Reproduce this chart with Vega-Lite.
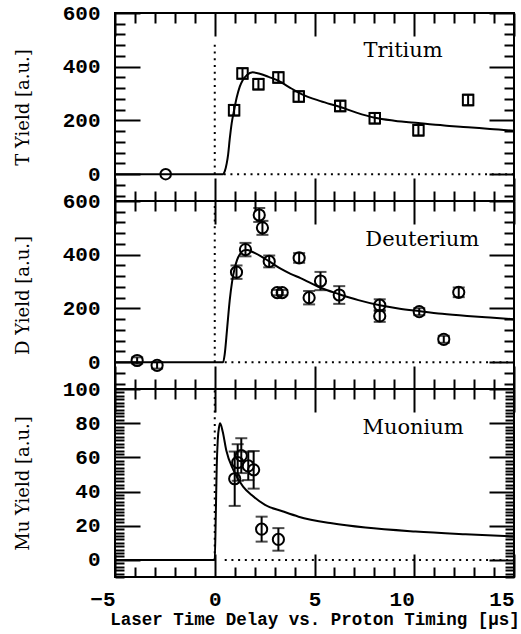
{
  "$schema": "https://vega.github.io/schema/vega-lite/v6.json",
  "padding": {"left": 13, "top": 1, "right": 2, "bottom": 0},
  "spacing": 0,
  "bounds": "flush",
  "datasets": {
    "tCurve": [{"t":-5,"v":0},{"t":0.42,"v":0},{"t":0.5,"v":10},{"t":0.6,"v":40},{"t":0.67,"v":73},{"t":0.75,"v":130},{"t":0.85,"v":190},{"t":0.97,"v":238},{"t":1.1,"v":285},{"t":1.25,"v":325},{"t":1.4,"v":350},{"t":1.6,"v":368},{"t":1.9,"v":379},{"t":2.3,"v":373},{"t":2.7,"v":362},{"t":3.18,"v":348},{"t":3.7,"v":325},{"t":4.35,"v":298},{"t":5.3,"v":272},{"t":6.29,"v":250},{"t":7.1,"v":229},{"t":8.02,"v":210},{"t":9.0,"v":199},{"t":10.2,"v":190},{"t":11.5,"v":181},{"t":12.7,"v":175},{"t":13.8,"v":168},{"t":15,"v":162}],
    "tPts": [{"t":0.97,"v":238,"lo":218,"hi":258},{"t":1.39,"v":375,"lo":355,"hi":395},{"t":2.19,"v":335,"lo":315,"hi":355},{"t":3.19,"v":360,"lo":340,"hi":380},{"t":4.21,"v":289,"lo":269,"hi":309},{"t":6.29,"v":254,"lo":234,"hi":274},{"t":8.02,"v":208,"lo":188,"hi":228},{"t":10.21,"v":163,"lo":143,"hi":183},{"t":12.7,"v":276,"lo":256,"hi":296}],
    "tCirc": [{"t":-2.46,"v":0}],
    "dCurve": [{"t":-5,"v":0},{"t":0.42,"v":0},{"t":0.5,"v":30},{"t":0.62,"v":125},{"t":0.75,"v":230},{"t":0.87,"v":300},{"t":1.0,"v":350},{"t":1.12,"v":381},{"t":1.3,"v":406},{"t":1.45,"v":416},{"t":1.62,"v":418},{"t":1.9,"v":410},{"t":2.3,"v":395},{"t":2.73,"v":375},{"t":3.3,"v":348},{"t":3.8,"v":329},{"t":4.3,"v":313},{"t":5.3,"v":277},{"t":6.24,"v":253},{"t":7.2,"v":231},{"t":8.27,"v":212},{"t":9.2,"v":200},{"t":10.25,"v":190},{"t":11.4,"v":180},{"t":12.65,"v":172},{"t":13.8,"v":166},{"t":15,"v":160}],
    "dPts": [{"t":-3.89,"v":6,"lo":-6,"hi":18},{"t":-2.89,"v":-12,"lo":-24,"hi":0},{"t":1.09,"v":335,"lo":310,"hi":360},{"t":1.54,"v":419,"lo":394,"hi":444},{"t":2.23,"v":548,"lo":522,"hi":574},{"t":2.39,"v":500,"lo":474,"hi":526},{"t":2.73,"v":375,"lo":353,"hi":397},{"t":3.13,"v":259,"lo":249,"hi":269},{"t":3.38,"v":259,"lo":249,"hi":269},{"t":4.23,"v":388,"lo":370,"hi":406},{"t":4.73,"v":240,"lo":215,"hi":265},{"t":5.3,"v":302,"lo":268,"hi":336},{"t":6.24,"v":250,"lo":217,"hi":283},{"t":8.27,"v":212,"lo":190,"hi":234},{"t":8.27,"v":172,"lo":150,"hi":194},{"t":10.25,"v":188,"lo":175,"hi":201},{"t":11.48,"v":85,"lo":72,"hi":98},{"t":12.23,"v":260,"lo":242,"hi":278}],
    "muCurve": [{"t":-5,"v":0},{"t":0.0,"v":0},{"t":0.05,"v":25},{"t":0.1,"v":55},{"t":0.15,"v":70},{"t":0.22,"v":78},{"t":0.27,"v":80},{"t":0.4,"v":75},{"t":0.58,"v":64},{"t":0.93,"v":52.7},{"t":1.42,"v":42.9},{"t":1.85,"v":38},{"t":2.52,"v":32.2},{"t":3.43,"v":28.3},{"t":4.2,"v":25.3},{"t":5.87,"v":21.4},{"t":7.55,"v":18.9},{"t":10.06,"v":16.6},{"t":12.57,"v":15},{"t":15,"v":13.7}],
    "muPts": [{"t":1.0,"v":47.5,"lo":31.6,"hi":63.4},{"t":1.15,"v":57,"lo":46.3,"hi":67.7},{"t":1.33,"v":61,"lo":50.8,"hi":71.2},{"t":1.68,"v":55,"lo":46.7,"hi":63.3},{"t":1.95,"v":52.7,"lo":41.7,"hi":63.7},{"t":2.35,"v":18,"lo":10.7,"hi":25.3},{"t":3.19,"v":12,"lo":5.4,"hi":18.6}],
    "guides": [{"p":"T","x":0,"x2":0,"y":0,"y2":485},{"p":"T","x":0.45,"x2":15,"y":0,"y2":0},{"p":"D","x":0,"x2":0,"y":0,"y2":600},{"p":"D","x":0.5,"x2":15,"y":0,"y2":0},{"p":"M","x":0,"x2":0,"y":0,"y2":100},{"p":"M","x":0.5,"x2":15,"y":0,"y2":0}],
    "labels": [{"p":"T","x":9.44,"y":460,"label":"Tritium"},{"p":"D","x":10.4,"y":456,"label":"Deuterium"},{"p":"M","x":9.94,"y":77,"label":"Muonium"}]
  },
  "vconcat": [
    {
      "width": 399, "height": 188,
      "layer": [
        {"data": {"name": "tCurve"}, "mark": {"type": "line", "color": "black", "strokeWidth": 2, "interpolate": "monotone"},
         "encoding": {
           "x": {"field": "t", "type": "quantitative", "scale": {"domain": [-5, 15], "nice": false, "zero": false},
                 "axis": {"orient": "bottom", "values": [-5,0,5,10,15], "labels": false, "title": null, "tickSize": -23}},
           "y": {"field": "v", "type": "quantitative", "scale": {"domain": [-100, 600], "nice": false, "zero": false},
                 "axis": {"orient": "left", "values": [0,200,400,600], "labelPadding": 40, "labelOverlap": false, "tickSize": -25, "title": "T Yield [a.u.]", "titlePadding": 30}}
         }},
        {"data": {"name": "tPts"}, "mark": {"type": "rule", "color": "black", "strokeWidth": 2},
         "encoding": {
           "x": {"field": "t", "type": "quantitative", "axis": {"orient": "top", "values": [-5,0,5,10,15], "labels": false, "title": null, "tickSize": -23}},
           "y": {"field": "lo", "type": "quantitative", "axis": {"orient": "right", "values": [0,200,400,600], "labels": false, "title": null, "tickSize": -25}},
           "y2": {"field": "hi"}
         }},
        {"data": {"name": "tPts"}, "mark": {"type": "tick", "orient": "horizontal", "color": "black", "size": 11, "thickness": 2},
         "encoding": {
           "x": {"field": "t", "type": "quantitative", "axis": {"orient": "bottom", "values": [-4,-3,-2,-1,1,2,3,4,6,7,8,9,11,12,13,14], "labels": false, "title": null, "tickSize": -10}},
           "y": {"field": "lo", "type": "quantitative", "axis": {"orient": "left", "values": [-80,-40,40,80,120,160,240,280,320,360,440,480,520,560], "labels": false, "title": null, "tickSize": -10}}}},
        {"data": {"name": "tPts"}, "mark": {"type": "tick", "orient": "horizontal", "color": "black", "size": 11, "thickness": 2},
         "encoding": {
           "x": {"field": "t", "type": "quantitative", "axis": {"orient": "top", "values": [-4,-3,-2,-1,1,2,3,4,6,7,8,9,11,12,13,14], "labels": false, "title": null, "tickSize": -10}},
           "y": {"field": "hi", "type": "quantitative", "axis": {"orient": "right", "values": [-80,-40,40,80,120,160,240,280,320,360,440,480,520,560], "labels": false, "title": null, "tickSize": -10}}}},
        {"data": {"name": "tPts"}, "mark": {"type": "point", "shape": "square", "filled": false, "color": "black", "strokeWidth": 2, "size": 110, "opacity": 1},
         "encoding": {"x": {"field": "t", "type": "quantitative", "axis": null}, "y": {"field": "v", "type": "quantitative", "axis": null}}},
        {"data": {"name": "tCirc"}, "mark": {"type": "point", "shape": "circle", "filled": false, "color": "black", "strokeWidth": 2, "size": 110, "opacity": 1},
         "encoding": {"x": {"field": "t", "type": "quantitative", "axis": null}, "y": {"field": "v", "type": "quantitative", "axis": null}}},
        {"data": {"name": "guides"}, "transform": [{"filter": "datum.p === 'T'"}], "mark": {"type": "rule", "color": "black", "strokeWidth": 2, "strokeDash": [2, 4.7]},
         "encoding": {"x": {"field": "x", "type": "quantitative", "axis": null}, "x2": {"field": "x2"}, "y": {"field": "y", "type": "quantitative", "axis": null}, "y2": {"field": "y2"}}},
        {"data": {"name": "labels"}, "transform": [{"filter": "datum.p === 'T'"}], "mark": {"type": "text", "font": "DejaVu Serif", "fontSize": 21, "color": "black", "align": "center", "baseline": "middle"},
         "encoding": {"x": {"field": "x", "type": "quantitative", "axis": null}, "y": {"field": "y", "type": "quantitative", "axis": null}, "text": {"field": "label"}}}
      ],
      "resolve": {"axis": {"x": "independent", "y": "independent"}}
    },
    {
      "width": 399, "height": 188,
      "layer": [
        {"data": {"name": "dCurve"}, "mark": {"type": "line", "color": "black", "strokeWidth": 2, "interpolate": "monotone"},
         "encoding": {
           "x": {"field": "t", "type": "quantitative", "scale": {"domain": [-5, 15], "nice": false, "zero": false},
                 "axis": {"orient": "bottom", "values": [-5,0,5,10,15], "labels": false, "title": null, "tickSize": -23}},
           "y": {"field": "v", "type": "quantitative", "scale": {"domain": [-100, 600], "nice": false, "zero": false},
                 "axis": {"orient": "left", "values": [0,200,400,600], "labelPadding": 40, "labelOverlap": false, "tickSize": -25, "title": "D Yield [a.u.]", "titlePadding": 30}}
         }},
        {"data": {"name": "dPts"}, "mark": {"type": "rule", "color": "black", "strokeWidth": 2},
         "encoding": {
           "x": {"field": "t", "type": "quantitative", "axis": {"orient": "top", "values": [-5,0,5,10,15], "labels": false, "title": null, "tickSize": -23}},
           "y": {"field": "lo", "type": "quantitative", "axis": {"orient": "right", "values": [0,200,400,600], "labels": false, "title": null, "tickSize": -25}},
           "y2": {"field": "hi"}
         }},
        {"data": {"name": "dPts"}, "mark": {"type": "tick", "orient": "horizontal", "color": "black", "size": 12, "thickness": 2},
         "encoding": {
           "x": {"field": "t", "type": "quantitative", "axis": {"orient": "bottom", "values": [-4,-3,-2,-1,1,2,3,4,6,7,8,9,11,12,13,14], "labels": false, "title": null, "tickSize": -10}},
           "y": {"field": "lo", "type": "quantitative", "axis": {"orient": "left", "values": [-80,-40,40,80,120,160,240,280,320,360,440,480,520,560], "labels": false, "title": null, "tickSize": -10}}}},
        {"data": {"name": "dPts"}, "mark": {"type": "tick", "orient": "horizontal", "color": "black", "size": 12, "thickness": 2},
         "encoding": {
           "x": {"field": "t", "type": "quantitative", "axis": {"orient": "top", "values": [-4,-3,-2,-1,1,2,3,4,6,7,8,9,11,12,13,14], "labels": false, "title": null, "tickSize": -10}},
           "y": {"field": "hi", "type": "quantitative", "axis": {"orient": "right", "values": [-80,-40,40,80,120,160,240,280,320,360,440,480,520,560], "labels": false, "title": null, "tickSize": -10}}}},
        {"data": {"name": "dPts"}, "mark": {"type": "point", "shape": "circle", "filled": false, "color": "black", "strokeWidth": 2, "size": 125, "opacity": 1},
         "encoding": {"x": {"field": "t", "type": "quantitative", "axis": null}, "y": {"field": "v", "type": "quantitative", "axis": null}}},
        {"data": {"name": "guides"}, "transform": [{"filter": "datum.p === 'D'"}], "mark": {"type": "rule", "color": "black", "strokeWidth": 2, "strokeDash": [2, 4.7]},
         "encoding": {"x": {"field": "x", "type": "quantitative", "axis": null}, "x2": {"field": "x2"}, "y": {"field": "y", "type": "quantitative", "axis": null}, "y2": {"field": "y2"}}},
        {"data": {"name": "labels"}, "transform": [{"filter": "datum.p === 'D'"}], "mark": {"type": "text", "font": "DejaVu Serif", "fontSize": 21, "color": "black", "align": "center", "baseline": "middle"},
         "encoding": {"x": {"field": "x", "type": "quantitative", "axis": null}, "y": {"field": "y", "type": "quantitative", "axis": null}, "text": {"field": "label"}}}
      ],
      "resolve": {"axis": {"x": "independent", "y": "independent"}}
    },
    {
      "width": 399, "height": 188,
      "layer": [
        {"data": {"name": "muCurve"}, "mark": {"type": "line", "color": "black", "strokeWidth": 2, "interpolate": "monotone"},
         "encoding": {
           "x": {"field": "t", "type": "quantitative", "scale": {"domain": [-5, 15], "nice": false, "zero": false},
                 "axis": {"orient": "bottom", "values": [-5,0,5,10,15], "labelPadding": 34, "labelOverlap": false, "labelFlush": false, "labelAlign": {"condition": {"test": "datum.value === -5 || datum.value >= 10", "value": "right"}, "value": "center"}, "tickSize": -23, "title": "Laser Time Delay vs. Proton Timing [μs]", "titlePadding": 1, "titleFont": "Liberation Mono", "titleFontSize": 17.5, "titleFontWeight": "bold"}},
           "y": {"field": "v", "type": "quantitative", "scale": {"domain": [-10, 100], "nice": false, "zero": false},
                 "axis": {"orient": "left", "values": [0,20,40,60,80,100], "labelPadding": 40, "labelOverlap": false, "tickSize": -25, "title": "Mu Yield [a.u.]", "titlePadding": 30}}
         }},
        {"data": {"name": "muPts"}, "mark": {"type": "rule", "color": "black", "strokeWidth": 2},
         "encoding": {
           "x": {"field": "t", "type": "quantitative", "axis": {"orient": "top", "values": [-5,0,5,10,15], "labels": false, "title": null, "tickSize": -23}},
           "y": {"field": "lo", "type": "quantitative", "axis": {"orient": "right", "values": [0,20,40,60,80,100], "labels": false, "title": null, "tickSize": -25}},
           "y2": {"field": "hi"}
         }},
        {"data": {"name": "muPts"}, "mark": {"type": "tick", "orient": "horizontal", "color": "black", "size": 12, "thickness": 2},
         "encoding": {
           "x": {"field": "t", "type": "quantitative", "axis": {"orient": "bottom", "values": [-4,-3,-2,-1,1,2,3,4,6,7,8,9,11,12,13,14], "labels": false, "title": null, "tickSize": -10}},
           "y": {"field": "lo", "type": "quantitative", "axis": {"orient": "left", "values": [-10,-8,-6,-4,-2,2,4,6,8,10,12,14,16,18,22,24,26,28,30,32,34,36,38,42,44,46,48,50,52,54,56,58,62,64,66,68,70,72,74,76,78,82,84,86,88,90,92,94,96,98], "labels": false, "title": null, "tickSize": -9}}}},
        {"data": {"name": "muPts"}, "mark": {"type": "tick", "orient": "horizontal", "color": "black", "size": 12, "thickness": 2},
         "encoding": {
           "x": {"field": "t", "type": "quantitative", "axis": {"orient": "top", "values": [-4,-3,-2,-1,1,2,3,4,6,7,8,9,11,12,13,14], "labels": false, "title": null, "tickSize": -10}},
           "y": {"field": "hi", "type": "quantitative", "axis": {"orient": "right", "values": [-10,-8,-6,-4,-2,2,4,6,8,10,12,14,16,18,22,24,26,28,30,32,34,36,38,42,44,46,48,50,52,54,56,58,62,64,66,68,70,72,74,76,78,82,84,86,88,90,92,94,96,98], "labels": false, "title": null, "tickSize": -9}}}},
        {"data": {"name": "muPts"}, "mark": {"type": "point", "shape": "circle", "filled": false, "color": "black", "strokeWidth": 2, "size": 125, "opacity": 1},
         "encoding": {"x": {"field": "t", "type": "quantitative", "axis": null}, "y": {"field": "v", "type": "quantitative", "axis": null}}},
        {"data": {"name": "guides"}, "transform": [{"filter": "datum.p === 'M'"}], "mark": {"type": "rule", "color": "black", "strokeWidth": 2, "strokeDash": [2, 4.7]},
         "encoding": {"x": {"field": "x", "type": "quantitative", "axis": null}, "x2": {"field": "x2"}, "y": {"field": "y", "type": "quantitative", "axis": null}, "y2": {"field": "y2"}}},
        {"data": {"name": "labels"}, "transform": [{"filter": "datum.p === 'M'"}], "mark": {"type": "text", "font": "DejaVu Serif", "fontSize": 21, "color": "black", "align": "center", "baseline": "middle"},
         "encoding": {"x": {"field": "x", "type": "quantitative", "axis": null}, "y": {"field": "y", "type": "quantitative", "axis": null}, "text": {"field": "label"}}}
      ],
      "resolve": {"axis": {"x": "independent", "y": "independent"}}
    }
  ],
  "config": {
    "background": "white",
    "view": {"stroke": "black", "strokeWidth": 2},
    "axis": {
      "domain": false, "grid": false,
      "tickColor": "black", "tickWidth": 2,
      "labelFont": "Liberation Mono", "labelFontSize": 21, "labelFontWeight": "bold", "labelColor": "black",
      "titleFont": "DejaVu Serif", "titleFontSize": 18, "titleFontWeight": "normal", "titleColor": "black"
    }
  }
}
